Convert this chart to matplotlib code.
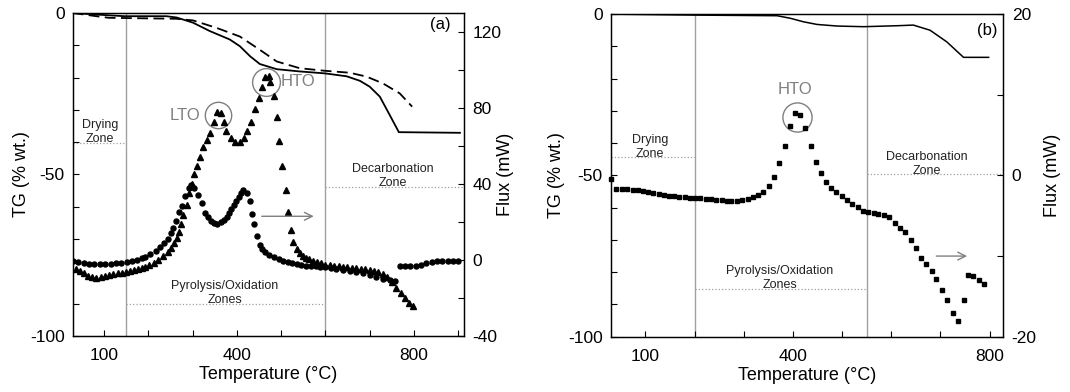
import matplotlib
matplotlib.use('Agg')
import matplotlib.pyplot as plt
import numpy as np
from matplotlib.ticker import MultipleLocator, FuncFormatter

plt.rcParams['font.family'] = ['Liberation Sans', 'DejaVu Sans']

# ---------------- Panel (a) data ----------------
tga_solid_T = [29, 84, 147, 241, 264, 301, 339, 384, 407, 430, 452, 490, 542, 599,
               648, 678, 700, 723, 745, 766, 904]
tga_solid = [0, -0.5, -1, -1, -1.4, -3, -5.6, -8.2, -10.3, -13.4, -15.8, -17.4, -18.1,
             -18.7, -19.6, -21, -22.8, -25.9, -31.5, -36.9, -37.1]

tga_dash_T = [29, 83, 111, 264, 301, 354, 407, 452, 490, 542, 599, 655, 693, 730, 768, 796]
tga_dash = [0, -1, -1.5, -1.8, -2.3, -4.6, -7.3, -11.4, -15, -17.1, -17.9, -18.5,
            -19.7, -21.8, -24.9, -29]

tri_T = [36, 45, 54, 63, 73, 83, 93, 103, 112, 121, 131, 140, 149, 158, 167, 176, 185,
         193, 202, 212, 222, 233, 244, 251, 258, 264, 269, 274, 279, 287, 293, 299, 304,
         309, 316, 324, 332, 340, 349, 356, 364, 371, 376, 386, 396, 407, 417, 424, 433,
         441, 450, 457, 464, 472, 476, 483, 490, 496, 503, 510, 516, 522, 528, 536, 543,
         549, 557, 564, 571, 580, 590, 600, 610, 620, 630, 640, 650, 660, 670, 680, 690,
         700, 710, 720, 730, 740, 750, 760, 770, 780, 790, 797]
tri_flux = [-4.5, -6, -7.1, -8.2, -8.9, -9.3, -9.1, -8.6, -8.0, -7.4, -7.0, -6.6, -6.3,
            -5.8, -5.2, -4.6, -4.1, -3.6, -2.8, -1.5, 0, 2.2, 4.4, 6.5, 8.8, 11.5, 14.9,
            19, 23.8, 29, 35.3, 40, 45, 49.7, 54.3, 59.6, 63.2, 66.7, 72.7, 78, 77.1,
            72.4, 68, 64.4, 62.1, 62.1, 64.4, 68, 72.4, 79.4, 85.3, 90.9, 96.2, 96.7,
            93.5, 86.5, 75.1, 62.8, 49.3, 36.8, 25.4, 16, 9.7, 5.8, 3.8, 2.3, 1.2, 0.4,
            -0.4, -1.1, -1.8, -2.4, -2.8, -3.1, -3.4, -3.6, -3.8, -4.1, -4.4, -4.7, -5,
            -5.3, -5.6, -6.3, -7.2, -8.8, -11.5, -14.8, -17.5, -20, -22.5, -24]

circ_T = [30, 42, 54, 66, 78, 90, 103, 115, 127, 139, 151, 163, 175, 186, 193, 205, 218,
          227, 236, 244, 251, 257, 262, 269, 276, 284, 291, 296, 303, 313, 322, 329, 335,
          342, 349, 356, 364, 371, 377, 382, 388, 393, 398, 404, 409, 415, 422, 429, 434,
          439, 446, 453, 458, 464, 472, 483, 495, 505, 515, 525, 535, 546, 556, 567, 578,
          589, 600, 612, 625, 640, 655, 670, 685, 700, 715, 730, 745, 758, 763, 768, 780,
          792, 804, 816, 828, 840, 852, 864, 876, 888, 900]
circ_flux = [-0.5, -1.3, -1.8, -2.0, -2.2, -2.2, -2.1, -2.0, -1.8, -1.5, -1.1, -0.6, 0.1,
             1.1, 1.7, 3.2, 4.9, 6.6, 8.8, 11.3, 14, 17, 20.3, 25, 28.2, 33.5, 37.9, 39.7,
             37.9, 34.4, 30, 24.7, 22.4, 20.3, 19.4, 19, 19.8, 21.1, 22.8, 24.7, 27, 29,
             31.2, 33.2, 35, 36.7, 35.3, 30.8, 24.2, 18.9, 12.8, 7.9, 5.8, 4, 2.6, 1.4,
             0.4, -0.5, -1.3, -1.8, -2.2, -2.6, -3, -3.2, -3.4, -3.6, -3.8, -4.2, -4.6,
             -5.1, -5.6, -6.3, -7, -7.8, -8.8, -9.8, -10.5, -11, np.nan, -3.3, -3.2, -3.1,
             -3, -2.5, -1.8, -1.1, -0.7, -0.5, -0.4, -0.4, -0.3]

# ---------------- Panel (b) data ----------------
tgb_T = [31, 198, 368, 395, 422, 449, 490, 544, 612, 645, 679, 713, 747, 798]
tgb = [0, -0.3, -0.5, -1.3, -2.4, -3.2, -3.7, -3.9, -3.6, -3.4, -5, -8.6, -13.4, -13.4]

sq_T = [31, 41, 52, 62, 74, 85, 95, 106, 116, 127, 138, 148, 159, 169, 180, 190, 200,
        212, 223, 233, 244, 255, 266, 275, 287, 297, 308, 319, 330, 340, 351, 361, 372,
        383, 395, 405, 415, 425, 437, 446, 457, 468, 478, 488, 499, 510, 521, 532, 543,
        553, 564, 574, 585, 595, 607, 618, 628, 640, 650, 661, 671, 683, 692, 704, 714,
        726, 735, 747, 757, 767, 778, 788]
sq_flux = [-0.4, -1.65, -1.7, -1.7, -1.78, -1.86, -1.94, -2.07, -2.19, -2.3, -2.4, -2.5,
           -2.6, -2.64, -2.68, -2.77, -2.84, -2.84, -2.9, -2.96, -3.0, -3.1, -3.16, -3.16,
           -3.16, -3.05, -2.9, -2.7, -2.46, -2.0, -1.28, -0.16, 1.5, 3.7, 6.1, 7.7, 7.5,
           5.9, 3.7, 1.7, 0.25, -0.82, -1.5, -2.0, -2.56, -3.05, -3.5, -3.9, -4.4, -4.5,
           -4.7, -4.74, -4.9, -5.15, -5.85, -6.55, -6.96, -8.0, -9.06, -10.2, -11.0,
           -11.9, -12.9, -14.2, -15.5, -17.0, -18.0, -15.5, -12.3, -12.5, -13.0, -13.5]

xlabel = "Temperature (°C)"
ylabel_l = "TG (% wt.)"
ylabel_r = "Flux (mW)"

GRAY = '#a0a0a0'
TXTGRAY = '#7f7f7f'
FS = 13
TFS = 12.5


def only(vals):
    return FuncFormatter(lambda v, p: f"{v:g}" if any(abs(v - u) < 1e-6 for u in vals) else "")


def style(ax, ax2, xlim, xlab, ylim2, step2, lab2, lp_left, lp_right):
    ax.set_xlim(*xlim)
    ax.set_ylim(-100, 0)
    ax.xaxis.set_major_locator(MultipleLocator(100))
    ax.xaxis.set_major_formatter(only(xlab))
    ax.yaxis.set_major_locator(MultipleLocator(10))
    ax.yaxis.set_major_formatter(only([0, -50, -100]))
    ax2.set_ylim(*ylim2)
    ax2.yaxis.set_major_locator(MultipleLocator(step2))
    ax2.yaxis.set_major_formatter(only(lab2))
    for a in (ax, ax2):
        a.tick_params(direction='in', length=4, width=0.8, labelsize=TFS)
        for s in a.spines.values():
            s.set_linewidth(0.9)
    ax.tick_params(axis='x', pad=9)
    ax.tick_params(axis='y', pad=6)
    ax2.tick_params(axis='y', pad=6)
    ax.set_xlabel(xlabel, fontsize=FS, labelpad=2)
    ax.set_ylabel(ylabel_l, fontsize=FS, labelpad=lp_left)
    ax2.set_ylabel(ylabel_r, fontsize=FS, labelpad=lp_right)


fig = plt.figure(figsize=(10.7, 3.92), dpi=100)

# ---------- (a) ----------
axA = fig.add_axes([0.0682, 0.1429, 0.3654, 0.824])
axA2 = axA.twinx()
style(axA, axA2, (30, 913), [100, 400, 800], (-40, 130), 20, [-40, 0, 40, 80, 120], 0, -3)

for xv in (150, 600):
    axA.axvline(xv, color=GRAY, lw=1, zorder=1)
axA.plot(tga_solid_T, tga_solid, color='black', lw=1.3, zorder=3)
axA.plot(tga_dash_T, tga_dash, color='black', lw=1.3, dashes=(6, 3), zorder=3)
axA2.plot(circ_T, circ_flux, 'o', color='black', ms=3.6, zorder=3)
axA2.plot(tri_T, tri_flux, '^', color='black', ms=4.4, zorder=3)

# zone annotations
ZFS = 9
axA.plot([30, 150], [-40.2, -40.2], ':', color=GRAY, lw=0.9)
axA.text(91, -36.8, "Drying\nZone", ha='center', va='center', fontsize=ZFS, color='#222222', linespacing=1.2)
axA.plot([600, 913], [-53.9, -53.9], ':', color=GRAY, lw=0.9)
axA.text(752, -50.5, "Decarbonation\nZone", ha='center', va='center', fontsize=ZFS, color='#222222', linespacing=1.2)
axA.plot([150, 600], [-90.1, -90.1], ':', color=GRAY, lw=0.9)
axA.text(373, -86.7, "Pyrolysis/Oxidation\nZones", ha='center', va='center', fontsize=ZFS, color='#222222', linespacing=1.2)

axA2.plot([358], [76.3], 'o', mfc='none', mec=TXTGRAY, ms=19, mew=1)
axA2.plot([467], [93.5], 'o', mfc='none', mec=TXTGRAY, ms=20, mew=1)
axA2.text(283, 76, "LTO", ha='center', va='center', fontsize=12, color=TXTGRAY)
axA2.text(538, 93.8, "HTO", ha='center', va='center', fontsize=12, color=TXTGRAY)
axA2.annotate("", xy=(580, 23), xytext=(450, 23),
              arrowprops=dict(arrowstyle='->', color=TXTGRAY, lw=1, mutation_scale=14))
axA.text(0.94, 0.965, "(a)", transform=axA.transAxes, ha='center', va='center', fontsize=12)

# ---------- (b) ----------
axB = fig.add_axes([0.571, 0.141, 0.3667, 0.823])
axB2 = axB.twinx()
style(axB, axB2, (30, 828), [100, 400, 800], (-20, 20), 10, [-20, 0, 20], 2, 5)

for xv in (200, 550):
    axB.axvline(xv, color=GRAY, lw=1, zorder=1)
axB.plot(tgb_T, tgb, color='black', lw=1.1, zorder=3)
axB2.plot(sq_T, sq_flux, 's', color='black', ms=3.4, zorder=3, clip_on=False)

axB.plot([30, 200], [-44.2, -44.2], ':', color=GRAY, lw=0.9)
axB.text(109, -41.1, "Drying\nZone", ha='center', va='center', fontsize=ZFS, color='#222222', linespacing=1.2)
axB.plot([550, 828], [-49.6, -49.6], ':', color=GRAY, lw=0.9)
axB.text(672, -46.5, "Decarbonation\nZone", ha='center', va='center', fontsize=ZFS, color='#222222', linespacing=1.2)
axB.plot([200, 550], [-85.2, -85.2], ':', color=GRAY, lw=0.9)
axB.text(374, -81.7, "Pyrolysis/Oxidation\nZones", ha='center', va='center', fontsize=ZFS, color='#222222', linespacing=1.2)

axB2.plot([408], [7.3], 'o', mfc='none', mec=TXTGRAY, ms=21, mew=1)
axB2.text(405, 10.7, "HTO", ha='center', va='center', fontsize=12, color=TXTGRAY)
axB2.annotate("", xy=(760, -10), xytext=(686, -10),
              arrowprops=dict(arrowstyle='->', color=TXTGRAY, lw=1, mutation_scale=14))
axB.text(0.958, 0.95, "(b)", transform=axB.transAxes, ha='center', va='center', fontsize=12)

fig.savefig("out.png", dpi=100)
